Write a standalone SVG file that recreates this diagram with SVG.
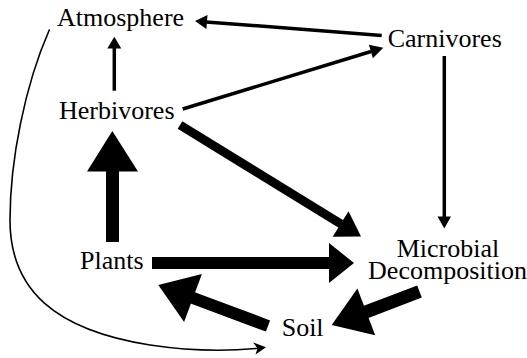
<svg xmlns="http://www.w3.org/2000/svg" width="527" height="358" viewBox="0 0 527 358">
<style>
text{font-family:'Liberation Serif','Times New Roman',Times,'DejaVu Serif',serif;font-size:26px;fill:#000}
.thin{stroke:#000;stroke-width:3.5;fill:none}
.curve{stroke:#000;stroke-width:1.6;fill:none}
.thick{stroke:#000;fill:none;stroke-linecap:butt}
.head{fill:#000;stroke:none}
</style>
<rect width="527" height="358" fill="#fff"/>
<g id="connectors">
  <line class="thin" x1="114.3" y1="90.7" x2="114.3" y2="47"/>
  <polygon class="head" points="114.3,36.7 107.3,48.5 121.3,48.5"/>
  <line class="thin" x1="381.7" y1="35.5" x2="206" y2="21.9"/>
  <polygon class="head" points="195,21 207.5,14.9 206.4,28.9"/>
  <line class="thin" x1="182.7" y1="109" x2="371" y2="51.5"/>
  <polygon class="head" points="383.3,47.7 372.9,58.2 368.9,44.8"/>
  <line class="thin" x1="444.3" y1="56" x2="444.3" y2="217"/>
  <polygon class="head" points="444.3,228.5 437.5,216.5 451,216.5"/>
  <line class="thick" stroke-width="9" x1="180" y1="125" x2="341" y2="224"/>
  <polygon class="head" points="361,236.5 332.7,236.7 348.5,211.2"/>
  <line class="thick" stroke-width="12" x1="152" y1="263" x2="330" y2="263"/>
  <polygon class="head" points="354,263 329,243 329,283"/>
  <line class="thick" stroke-width="13" x1="112.5" y1="242" x2="112.5" y2="170"/>
  <polygon class="head" points="112.3,131 87,171.5 138,171.5"/>
  <line class="thick" stroke-width="12" x1="268" y1="326" x2="192" y2="297.6"/>
  <polygon class="head" points="158.3,285 201.9,274.1 184.1,321.9"/>
  <line class="thick" stroke-width="13" x1="419.5" y1="291.5" x2="365.5" y2="312.1"/>
  <polygon class="head" points="331.7,325 375.2,335.2 357.4,288.5"/>
  <path class="curve" d="M49.5,29.5 C25,85 10,160 10,220 C10,290 55,330 150,345 C190,351 230,351 258,348.3"/>
  <polygon class="head" points="266,347.3 253,342.5 257.5,348.3 255.5,354.5"/>
</g>
<g id="atmosphere"><text x="57" y="26">Atmosphere</text></g>
<g id="carnivores"><text x="387.7" y="46.7">Carnivores</text></g>
<g id="herbivores"><text x="59" y="119.3">Herbivores</text></g>
<g id="plants"><text x="80" y="269.3">Plants</text></g>
<g id="microbial-decomposition"><text x="448" y="257.3" text-anchor="middle">Microbial</text><text x="447.5" y="279.3" text-anchor="middle">Decomposition</text></g>
<g id="soil"><text x="281.7" y="335.7">Soil</text></g>
</svg>
